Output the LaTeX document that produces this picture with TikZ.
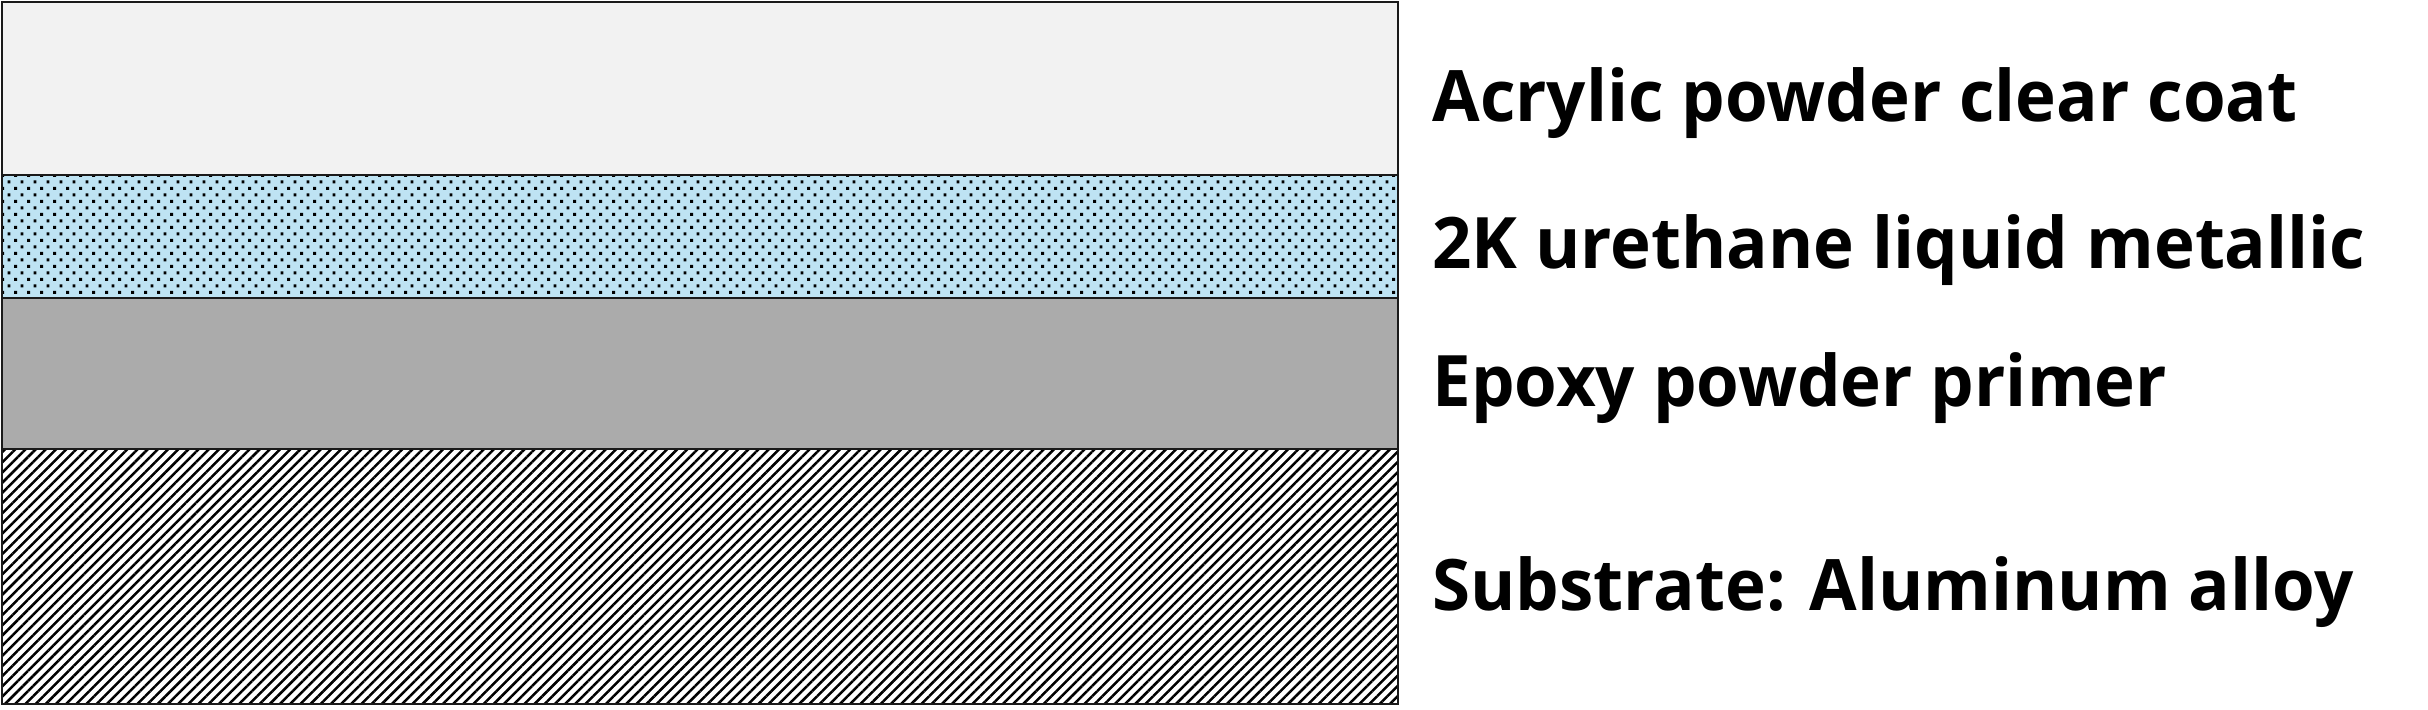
\documentclass[tikz,border=0pt]{standalone}
\usepackage{fontspec}
\setmainfont{Open Sans}[FakeStretch=0.972]
\usetikzlibrary{patterns.meta}
\definecolor{clearcoat}{HTML}{F2F2F2}
\definecolor{metallic}{HTML}{BEE3F3}
\definecolor{primer}{HTML}{ABABAB}
\definecolor{edge}{HTML}{1A1A1A}
\pgfdeclarepattern{
  name=stagdots, type=uncolored,
  bottom left={\pgfpoint{0pt}{0pt}},
  top right={\pgfpoint{6.7pt}{6.7pt}},
  tile size={\pgfpoint{6.7pt}{6.7pt}},
  code={
    \pgfpathrectangle{\pgfpoint{0.6pt}{0.6pt}}{\pgfpoint{1.5pt}{1.5pt}}
    \pgfpathrectangle{\pgfpoint{3.95pt}{3.95pt}}{\pgfpoint{1.5pt}{1.5pt}}
    \pgfusepath{fill}
  }}
\tikzset{
  layer/.style={draw=edge, line width=1.2pt},
  lab/.style={anchor=base west, inner sep=0pt, font=\fontsize{35.5pt}{40pt}\selectfont\bfseries},
}
\begin{document}
\begin{tikzpicture}[x=0.5pt, y=-0.5pt]
\useasboundingbox (0,0) rectangle (2428,709);
\fill[white] (0,0) rectangle (2428,709);
% layers
\draw[layer, fill=clearcoat] (2,2) rectangle (1398,175);
\draw[layer, fill=metallic] (2,175) rectangle (1398,298);
\fill[pattern=stagdots, pattern color=black] (3,176) rectangle (1397,297);
\draw[layer] (2,175) rectangle (1398,298);
\draw[layer, fill=primer] (2,298) rectangle (1398,449);
\fill[white] (2,449) rectangle (1398,704);
\fill[pattern={Lines[angle=45, distance=3.6pt, line width=1.25pt]}, pattern color=black] (3,450) rectangle (1397,703);
\draw[layer] (2,449) rectangle (1398,704);
% labels
\node[lab] (l1) at (1432,121) {Acrylic powder clear coat};
\node[lab] (l2) at (1432,268) {2K urethane liquid metallic};
\node[lab] (l3) at (1432,406) {Epoxy powder primer};
\node[lab] (l4) at (1432,610) {Substrate: Aluminum alloy};
\end{tikzpicture}
\end{document}
